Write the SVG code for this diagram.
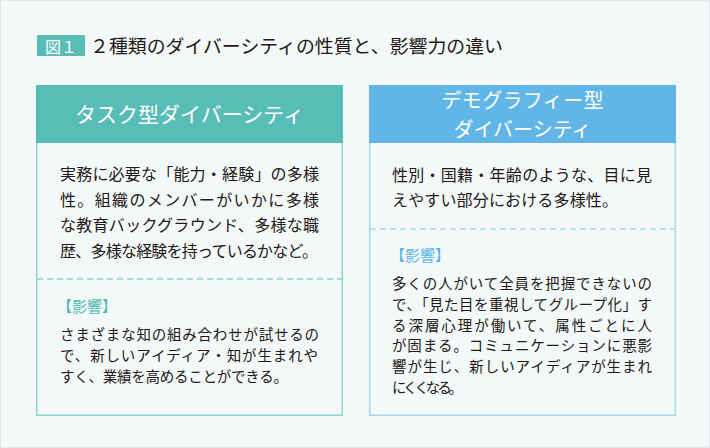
<svg xmlns="http://www.w3.org/2000/svg" width="710" height="448" viewBox="0 0 710 448">
<style>
text{font-family:"Noto Sans CJK JP","Noto Sans",sans-serif;}
.body{font-size:16px;fill:#231815;}
.imp{font-size:14.5px;fill:#231815;}
.hd{font-size:21px;fill:#ffffff;text-anchor:middle;}
.hd2{font-size:20px;fill:#ffffff;text-anchor:middle;}
.lblT{font-size:15px;fill:#4dbab4;}
.lblB{font-size:15px;fill:#5ab4e6;}
.dashT{stroke:#8fd3ce;stroke-width:1.5;stroke-dasharray:6 4;fill:none;}
.dashB{stroke:#a5d6f1;stroke-width:1.5;stroke-dasharray:6 4;fill:none;}
</style>
<rect x="0" y="0" width="710" height="448" fill="#f3f8f9"/>
<rect x="0.5" y="0.5" width="709" height="447" fill="none" stroke="#dfe8ea"/>
<g id="title">
<rect x="37" y="35" width="48" height="21" fill="#58bcb7"/>
<text x="61" y="52.5" font-size="16" fill="#ffffff" text-anchor="middle">図１</text>
<text x="90" y="53" font-size="18.5" fill="#231815" textLength="413" lengthAdjust="spacingAndGlyphs">２種類のダイバーシティの性質と、影響力の違い</text>
</g>
<g id="task">
<rect x="36.75" y="85.75" width="305.5" height="329.5" fill="#f3f8f9" stroke="#8fd3ce" stroke-width="1.5"/>
<rect x="36" y="85" width="307" height="58" fill="#58bcb7"/>
<text class="hd" x="189.5" y="122">タスク型ダイバーシティ</text>
<text class="body" x="60" y="180" textLength="259" lengthAdjust="spacing">実務に必要な「能力・経験」の多様</text>
<text class="body" x="60" y="206" textLength="259" lengthAdjust="spacing">性。組織のメンバーがいかに多様</text>
<text class="body" x="60" y="231" textLength="259" lengthAdjust="spacing">な教育バックグラウンド、多様な職</text>
<text class="body" x="60" y="257" textLength="258" lengthAdjust="spacing">歴、多様な経験を持っているかなど。</text>
<line class="dashT" x1="37" y1="279" x2="342" y2="279"/>
<text class="lblT" x="57" y="312">【影響】</text>
<text class="imp" x="60" y="340" textLength="259" lengthAdjust="spacing">さまざまな知の組み合わせが試せるの</text>
<text class="imp" x="60" y="361" textLength="258" lengthAdjust="spacing">で、新しいアイディア・知が生まれや</text>
<text class="imp" x="60" y="382" textLength="228" lengthAdjust="spacing">すく、業績を高めることができる。</text>
</g>
<g id="demographic">
<rect x="369.75" y="85.75" width="305.5" height="329.5" fill="#f3f8f9" stroke="#a5d6f1" stroke-width="1.5"/>
<rect x="369" y="85" width="307" height="58" fill="#62b6e7"/>
<text class="hd2" x="522.5" y="108" textLength="162" lengthAdjust="spacing">デモグラフィー型</text>
<text class="hd2" x="522.5" y="137" textLength="138" lengthAdjust="spacing">ダイバーシティ</text>
<text class="body" x="392" y="181" textLength="260" lengthAdjust="spacing">性別・国籍・年齢のような、目に見</text>
<text class="body" x="392" y="206" textLength="226" lengthAdjust="spacing">えやすい部分における多様性。</text>
<line class="dashB" x1="370" y1="229" x2="675" y2="229"/>
<text class="lblB" x="390" y="261">【影響】</text>
<text class="imp" x="392" y="289" textLength="260" lengthAdjust="spacing">多くの人がいて全員を把握できないの</text>
<text class="imp" x="392" y="310" textLength="260" lengthAdjust="spacing">で、「見た目を重視してグループ化」す</text>
<text class="imp" x="392" y="331" textLength="260" lengthAdjust="spacing">る深層心理が働いて、属性ごとに人</text>
<text class="imp" x="392" y="351" textLength="260" lengthAdjust="spacing">が固まる。コミュニケーションに悪影</text>
<text class="imp" x="392" y="372" textLength="260" lengthAdjust="spacing">響が生じ、新しいアイディアが生まれ</text>
<text class="imp" x="392" y="393" textLength="71" lengthAdjust="spacing">にくくなる。</text>
</g>
</svg>
